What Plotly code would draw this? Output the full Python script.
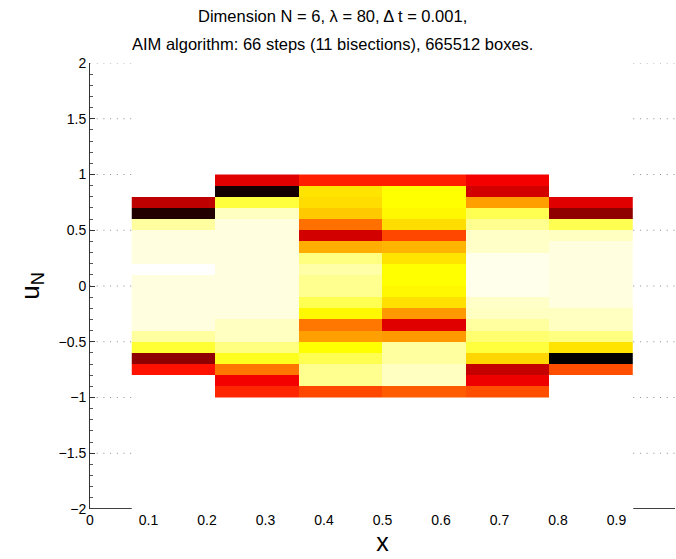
import plotly.graph_objects as go

# Column edges along x (6 columns) and cell edges along u_N
x_edges = [0.0714, 0.2143, 0.3571, 0.5, 0.6429, 0.7857, 0.9286]
y_edges = [-1.0, -0.9, -0.8, -0.7, -0.6, -0.5, -0.4, -0.3, -0.2, -0.1, 0.0,
           0.1, 0.2, 0.3, 0.4, 0.5, 0.6, 0.7, 0.8, 0.9, 1.0]

# Cell values per column, listed from top (u=1.0) to bottom (u=-1.0); None = empty
col1 = [None, None, 0.72, 0.95, 0.093, 0.03, 0.03, 0.03, 0.0, 0.03, 0.03, 0.03,
        0.03, 0.03, 0.093, 0.20, 0.79, 0.60, None, None]
col2 = [0.67, 0.97, 0.19, 0.06, 0.03, 0.03, 0.03, 0.03, 0.03, 0.03, 0.03, 0.03,
        0.03, 0.06, 0.06, 0.125, 0.22, 0.45, 0.64, 0.57]
col3 = [0.58, 0.29, 0.30, 0.33, 0.46, 0.69, 0.37, 0.125, 0.085, 0.11, 0.11, 0.17,
        0.26, 0.45, 0.39, 0.25, 0.17, 0.11, 0.11, 0.52]
col4 = [0.58, 0.25, 0.25, 0.26, 0.30, 0.52, 0.36, 0.29, 0.25, 0.25, 0.26, 0.295,
        0.40, 0.67, 0.40, 0.093, 0.093, 0.06, 0.06, 0.49]
col5 = [0.64, 0.69, 0.39, 0.17, 0.11, 0.055, 0.055, 0.02, 0.02, 0.02, 0.02, 0.055,
        0.06, 0.093, 0.14, 0.19, 0.31, 0.71, 0.65, 0.51]
col6 = [None, None, 0.67, 0.79, 0.17, 0.06, 0.03, 0.03, 0.03, 0.03, 0.03, 0.03,
        0.06, 0.06, 0.125, 0.29, 1.0, 0.51, None, None]

columns = [col1, col2, col3, col4, col5, col6]
nrows = len(y_edges) - 1
# z rows ordered bottom -> top
z = [[col[nrows - 1 - i] for col in columns] for i in range(nrows)]

x_ticks = [0, 0.1, 0.2, 0.3, 0.4, 0.5, 0.6, 0.7, 0.8, 0.9, 1]
y_ticks = [-2, -1.5, -1, -0.5, 0, 0.5, 1, 1.5, 2]

# reversed MATLAB 'hot'
hot_r = [[0.0, "#ffffff"], [0.25, "#ffff00"], [0.625, "#ff0000"], [1.0, "#000000"]]

FONT = "Liberation Sans, Arial, Helvetica, sans-serif"

fig = go.Figure()
fig.add_trace(go.Heatmap(x=x_edges, y=y_edges, z=z, zmin=0, zmax=1,
                         colorscale=hot_r, showscale=False, hoverongaps=False))

fig.update_layout(
    width=676, height=559,
    margin=dict(l=90, r=1, t=63, b=50),
    paper_bgcolor="white", plot_bgcolor="white",
    font=dict(family=FONT, size=14, color="black"),
    showlegend=False,
)
fig.update_xaxes(range=[0, 1], tickvals=x_ticks, ticktext=["%g" % v for v in x_ticks],
                 showgrid=False, zeroline=False, showline=False, ticks="",
                 tickfont=dict(size=14), ticklabelstandoff=1,
                 title=dict(text="x", font=dict(size=25), standoff=5))
fig.update_yaxes(range=[-2, 2], tickvals=y_ticks,
                 ticktext=[("\u2212" if v < 0 else "") + ("%g" % abs(v)) for v in y_ticks],
                 showgrid=False, zeroline=False, showline=True, linecolor="#333333", linewidth=1,
                 ticks="inside", ticklen=5, tickcolor="#333333",
                 minor=dict(ticks="inside", ticklen=3, dtick=0.1, tickcolor="#555555", showgrid=False),
                 tickfont=dict(size=14),
                 title=dict(text="u<sub>N</sub>", font=dict(size=26), standoff=11))

# dotted grid visible only outside the data region (as in the original)
for yv in y_ticks[1:]:
    for a, b in [(0, x_edges[0]), (x_edges[-1], 1)]:
        fig.add_shape(type="line", xref="x", yref="y", x0=a, x1=b, y0=yv, y1=yv,
                      line=dict(color="#8a8a8a", width=1, dash="1px,5.7px"), layer="below")
# bottom axis line segments visible outside the data region
for a, b in [(0, x_edges[0]), (x_edges[-1], 1)]:
    fig.add_shape(type="line", xref="x", yref="y", x0=a, x1=b, y0=-2, y1=-2,
                  line=dict(color="black", width=1.3), layer="above")

fig.add_annotation(text="Dimension N = 6, \u03bb = 80, \u0394 t = 0.001,",
                   xref="paper", yref="paper", x=0.415, y=1.105, showarrow=False,
                   font=dict(size=16.5), xanchor="center", yanchor="middle")
fig.add_annotation(text="AIM algorithm: 66 steps (11 bisections), 665512 boxes.",
                   xref="paper", yref="paper", x=0.415, y=1.0426, showarrow=False,
                   font=dict(size=16.5), xanchor="center", yanchor="middle")

fig.write_html("out.html", config={"displayModeBar": False},
               post_script="document.body.style.margin='0';")
